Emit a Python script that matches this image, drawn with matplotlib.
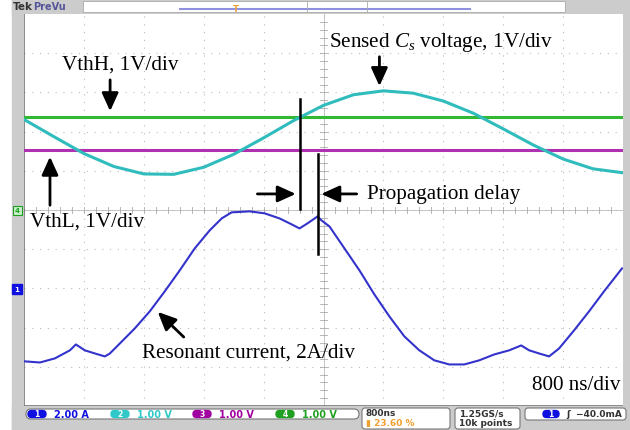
import matplotlib.pyplot as plt
from matplotlib.patches import FancyBboxPatch, Rectangle

plt.rcParams['mathtext.fontset'] = 'custom'
plt.rcParams['mathtext.rm'] = 'Liberation Serif'
plt.rcParams['mathtext.it'] = 'Liberation Serif:italic'

# time base 800 ns/div, 10 divisions
t_cur = [0, 213, 413, 613, 693, 813, 947, 1080, 1147, 1280, 1480, 1680, 1880, 2080,
         2280, 2480, 2640, 2773, 3013, 3213, 3413, 3573, 3680, 3787, 3920, 3973, 4080,
         4280, 4480, 4680, 4880, 5080, 5280, 5480, 5680, 5880, 6080, 6280, 6480, 6640,
         6747, 6880, 7013, 7147, 7347, 7547, 7747, 7987]
i_cur = [-3.72, -3.78, -3.57, -3.16, -2.86, -3.16, -3.32, -3.47, -3.32, -2.81, -2.04,
         -1.17, -0.15, 0.92, 2.04, 2.96, 3.57, 3.88, 3.93, 3.83, 3.57, 3.27, 3.06, 3.32,
         3.67, 3.47, 3.16, 2.04, 0.92, -0.31, -1.43, -2.45, -3.16, -3.67, -3.88, -3.88,
         -3.67, -3.37, -3.16, -2.91, -3.16, -3.32, -3.47, -3.06, -2.14, -1.17, -0.15, 1.02]
t_cs = [0, 400, 800, 1200, 1600, 2000, 2400, 2800, 3200, 3600, 4000, 4400, 4800, 5200,
        5600, 6000, 6400, 6800, 7200, 7600, 8000]
v_cs = [2.31, 1.87, 1.44, 1.11, 0.92, 0.91, 1.09, 1.42, 1.84, 2.28, 2.67, 2.94, 3.04,
        2.98, 2.78, 2.47, 2.07, 1.66, 1.30, 1.05, 0.95]
v_thh = 2.37
v_thl = 1.53
ch1_offset = -2.0   # divisions
amp_per_div = 2.0

fig = plt.figure(figsize=(6.3, 4.31), dpi=100)
fig.patch.set_facecolor('white')
W, H = 630, 431

def fr(x0, y0, x1, y1):
    return [x0 / W, 1 - y1 / H, (x1 - x0) / W, (y1 - y0) / H]

# scope frame
bg = fig.add_axes([0, 0, 1, 1])
bg.set_xlim(0, W)
bg.set_ylim(H, 0)
bg.axis('off')
bg.add_patch(Rectangle((12, 0), 618, 15, color='#cccccc'))
bg.add_patch(Rectangle((12, 0), 12, 431, color='#cccccc'))
bg.add_patch(Rectangle((12, 407), 618, 24, color='#cccccc'))
bg.add_patch(Rectangle((623, 0), 7, 431, color='#cccccc'))
bg.add_patch(Rectangle((83, 2), 482, 11, facecolor='white', edgecolor='#aaaaaa', lw=0.6))
bg.plot([180, 470], [10, 10], color='#9090e0', lw=1.5)
bg.plot([307, 307], [2, 13], color='#aaaaaa', lw=0.6)
bg.plot([367, 367], [2, 13], color='#aaaaaa', lw=0.6)
bg.text(236, 9, 'T', color='#f0a030', fontsize=6, ha='center', va='center', weight='bold')
bg.text(165, 21, 'T', color='#f0a030', fontsize=7, ha='center', va='center', weight='bold')
bg.text(13, 7, 'Tek', fontsize=7.5, weight='bold', va='center', color='#333333')
bg.text(33, 7, 'PreVu', fontsize=7, weight='bold', va='center', color='#555599')

# bottom readouts
bg.add_patch(FancyBboxPatch((26, 410), 333, 10, boxstyle='round,pad=0,rounding_size=5',
                            facecolor='white', edgecolor='#777777', lw=0.8))
for x, lab, col, txt in [(37, '1', '#1010e0', '2.00 A'), (120, '2', '#30c8c8', '1.00 V'),
                         (202, '3', '#a000a0', '1.00 V'), (285, '4', '#20a020', '1.00 V')]:
    bg.add_patch(FancyBboxPatch((x - 9, 411.5), 18, 7, boxstyle='round,pad=0,rounding_size=3.5',
                                color=col))
    bg.text(x, 415, lab, fontsize=5.5, ha='center', va='center', color='white', weight='bold')
    bg.text(x + 17, 415, txt, fontsize=7, va='center', color=col, weight='bold')
bg.add_patch(FancyBboxPatch((362, 409), 88, 21, boxstyle='round,pad=0,rounding_size=3',
                            facecolor='white', edgecolor='#777777', lw=0.8))
bg.text(366, 414, '800ns', fontsize=6.5, va='center', weight='bold', color='#333333')
bg.text(366, 424, '\u25ae 23.60 %', fontsize=6.5, va='center', weight='bold', color='#f0a030')
bg.add_patch(FancyBboxPatch((455, 409), 65, 21, boxstyle='round,pad=0,rounding_size=3',
                            facecolor='white', edgecolor='#777777', lw=0.8))
bg.text(459, 414, '1.25GS/s', fontsize=6.5, va='center', weight='bold', color='#333333')
bg.text(459, 424, '10k points', fontsize=6.5, va='center', weight='bold', color='#333333')
bg.add_patch(FancyBboxPatch((525, 409), 101, 12, boxstyle='round,pad=0,rounding_size=3',
                            facecolor='white', edgecolor='#777777', lw=0.8))
bg.add_patch(FancyBboxPatch((543, 411.5), 16, 7, boxstyle='round,pad=0,rounding_size=3.5',
                            color='#1010e0'))
bg.text(551, 415, '1', fontsize=5.5, ha='center', va='center', color='white', weight='bold')
bg.text(566, 415, '\u0283  \u221240.0mA', fontsize=6.5, va='center', weight='bold', color='#333333')

# channel markers on the left strip
bg.add_patch(Rectangle((12, 285), 10, 10, color='#1010e0'))
bg.text(17, 290, '1', fontsize=5, ha='center', va='center', color='white', weight='bold')
bg.add_patch(Rectangle((13, 207), 9, 9, facecolor='#c8f0c8', edgecolor='#20a020', lw=0.8))
bg.text(17.5, 211.5, '4', fontsize=5, ha='center', va='center', color='#20a020', weight='bold')

# graticule + traces
ax = fig.add_axes(fr(24, 15, 623, 407))
ax.set_xlim(0, 8000)
ax.set_ylim(-5, 5)
ax.set_facecolor('white')
for s in ax.spines.values():
    s.set_visible(False)
ax.set_xticks([])
ax.set_yticks([])
for k in range(1, 10):
    ax.axvline(800 * k, color='#bbbbbb', lw=0.8, ls=(0, (1, 6)))
    ax.axhline(k - 5, color='#bbbbbb', lw=0.8, ls=(0, (1, 6)))
ax.axvline(4000, color='#bbbbbb', lw=0.6)
ax.axhline(0, color='#bbbbbb', lw=0.6)
for k in range(50):
    ax.plot([160 * k] * 2, [-0.08, 0.08], color='#aaaaaa', lw=0.6)
    ax.plot([3950, 4050], [0.2 * k - 5] * 2, color='#aaaaaa', lw=0.6)
ax.axvline(0, color='#777777', lw=1.2)
ax.axhline(-5, color='#777777', lw=1.2)

ax.plot([0, 8000], [v_thh, v_thh], color='#33b833', lw=2.2)
ax.plot([0, 8000], [v_thl, v_thl], color='#b030b0', lw=2.2)
ax.plot(t_cs, v_cs, color='#30bcbc', lw=2.2)
ax.plot(t_cur, [i / amp_per_div + ch1_offset for i in i_cur], color='#3333cc', lw=1.5)

# annotations
tf = dict(family='Liberation Serif', fontsize=15.2, color='black')
arr = dict(arrowstyle='-|>,head_width=0.5,head_length=1.1', color='black', lw=2)
ax.text(4080, 4.31, r'Sensed $C_s$ voltage, 1V/div', va='center', **tf)
ax.annotate('', xy=(4747, 3.09), xytext=(4747, 3.98), arrowprops=arr)
ax.text(507, 3.72, 'VthH, 1V/div', va='center', **tf)
ax.annotate('', xy=(1150, 2.45), xytext=(1150, 3.39), arrowprops=arr)
ax.text(80, -0.28, 'VthL, 1V/div', va='center', **tf)
ax.annotate('', xy=(347, 1.43), xytext=(347, 0.05), arrowprops=arr)
ax.text(4587, 0.41, 'Propagation delay', va='center', **tf)
ax.annotate('', xy=(3667, 0.41), xytext=(3080, 0.41), arrowprops=arr)
ax.annotate('', xy=(3933, 0.41), xytext=(4480, 0.41), arrowprops=arr)
ax.plot([3680, 3680], [0.03, 2.83], color='black', lw=1.8)
ax.plot([3920, 3920], [-1.12, 1.43], color='black', lw=1.8)
ax.text(1573, -3.62, 'Resonant current, 2A/div', va='center', **tf)
ax.annotate('', xy=(1760, -2.55), xytext=(2160, -3.29), arrowprops=arr)
ax.text(7973, -4.44, '800 ns/div', va='center', ha='right',
        bbox=dict(facecolor='white', edgecolor='none', pad=1), **tf)

fig.savefig('out.png', dpi=100)
